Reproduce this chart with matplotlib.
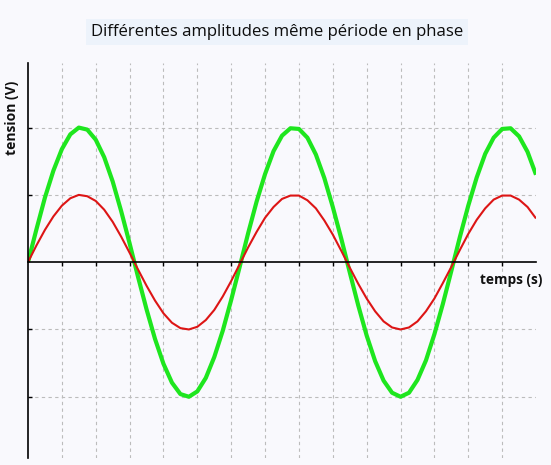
import matplotlib
matplotlib.use("Agg")
import matplotlib.pyplot as plt

# temps (s) (une graduation = 1 unite)
temps = [0.0, 0.25, 0.5, 0.75, 1.0, 1.25, 1.5, 1.75, 2.0, 2.25, 2.5, 2.75,
         3.0, 3.25, 3.5, 3.75, 4.0, 4.25, 4.5, 4.75, 5.0, 5.25, 5.5, 5.75,
         6.0, 6.25, 6.5, 6.75, 7.0, 7.25, 7.5, 7.75, 8.0, 8.25, 8.5, 8.75,
         9.0, 9.25, 9.5, 9.75, 10.0, 10.25, 10.5, 10.75, 11.0, 11.25, 11.5, 11.75,
         12.0, 12.25, 12.5, 12.75, 13.0, 13.25, 13.5, 13.75, 14.0, 14.25, 14.5, 14.75,
         15.0]

# tension du signal rouge (amplitude 1)
tension_rouge = [0.0, 0.25, 0.48, 0.68, 0.84, 0.95, 1.0, 0.98, 0.91, 0.78, 0.6, 0.38,
                 0.14, -0.11, -0.35, -0.57, -0.76, -0.9, -0.98, -1.0, -0.96, -0.86, -0.71, -0.51,
                 -0.28, -0.03, 0.22, 0.45, 0.66, 0.82, 0.94, 0.99, 0.99, 0.92, 0.8, 0.62,
                 0.41, 0.17, -0.08, -0.32, -0.54, -0.73, -0.88, -0.97, -1.0, -0.97, -0.88, -0.73,
                 -0.54, -0.31, -0.07, 0.18, 0.42, 0.63, 0.8, 0.93, 0.99, 0.99, 0.93, 0.82,
                 0.65]

# tension du signal vert (amplitude 2)
tension_verte = [0.0, 0.49, 0.96, 1.36, 1.68, 1.9, 2.0, 1.97, 1.82, 1.56, 1.2, 0.76,
                 0.28, -0.22, -0.7, -1.14, -1.51, -1.79, -1.96, -2.0, -1.92, -1.72, -1.41, -1.02,
                 -0.56, -0.07, 0.43, 0.9, 1.31, 1.65, 1.88, 1.99, 1.98, 1.85, 1.6, 1.25,
                 0.82, 0.35, -0.15, -0.64, -1.09, -1.47, -1.76, -1.94, -2.0, -1.94, -1.75, -1.46,
                 -1.07, -0.62, -0.13, 0.37, 0.84, 1.26, 1.61, 1.85, 1.98, 1.99, 1.87, 1.64,
                 1.3]

plt.rcParams['font.family'] = ['Open Sans', 'DejaVu Sans']

fig = plt.figure(figsize=(5.51, 4.65), dpi=100)
fig.patch.set_facecolor('#f9f9fd')
ax = fig.add_axes([28 / 551, 7 / 465, 508 / 551, 395 / 465])
ax.set_facecolor('#f9f9fd')

ax.plot(temps, tension_verte, color='#1ee61e', linewidth=3.0, solid_capstyle='butt')
ax.plot(temps, tension_rouge, color='#dd1515', linewidth=1.5, solid_capstyle='butt')

ax.set_xlim(0, 15)
ax.set_ylim(-2.91, 2.96)
ax.set_xticks(range(1, 15))
ax.set_yticks([-2, -1, 1, 2])
ax.set_xticklabels([])
ax.set_yticklabels([])
ax.grid(True, color='#bcbcbc', linestyle=(0, (3, 3)), linewidth=0.8)

ax.spines['top'].set_visible(False)
ax.spines['right'].set_visible(False)
ax.spines['bottom'].set_position(('data', 0))
ax.spines['bottom'].set_linewidth(1.2)
ax.spines['left'].set_linewidth(1.2)
ax.tick_params(axis='x', direction='out', length=3, width=1)
ax.tick_params(axis='y', direction='in', length=3, width=1)

fig.text(12 / 551, 1 - 118 / 465, 'tension (V)', rotation=90, ha='center', va='center',
         fontsize=10, fontweight='bold', color='#111111')
fig.text(511 / 551, 1 - 280 / 465, 'temps (s)', ha='center', va='center',
         fontsize=9.8, fontweight='bold', color='#111111')
fig.text(277 / 551, 1 - 32 / 465, 'Différentes amplitudes même période en phase',
         ha='center', va='center', fontsize=12.1, fontweight='medium', color='#0d0d0d',
         bbox=dict(boxstyle='square,pad=0.3', facecolor='#edf3fb', edgecolor='none'))

fig.savefig('out.png', dpi=100, facecolor=fig.get_facecolor())
